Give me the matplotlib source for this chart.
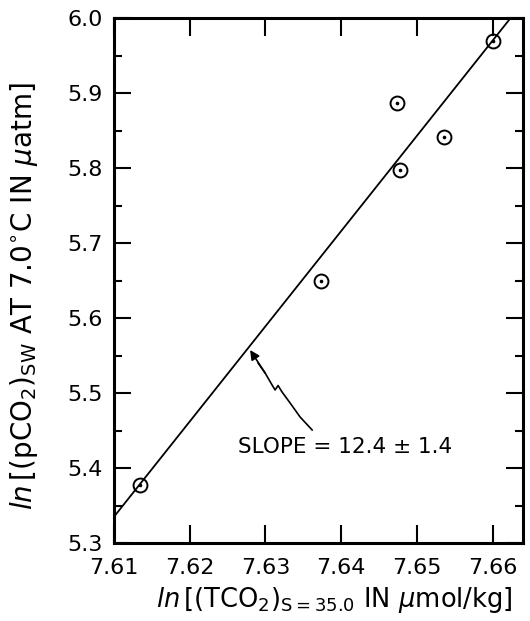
import numpy as np
import matplotlib
matplotlib.use("Agg")
import matplotlib.pyplot as plt

# data
ln_tco2 = [7.6134, 7.6373, 7.6474, 7.6478, 7.6536, 7.6601]
ln_pco2 = [5.377, 5.649, 5.887, 5.797, 5.841, 5.969]

# fitted line as drawn
fit_intercept = 5.335   # value at ln TCO2 = 7.61
fit_slope = 12.7
fit_x = [7.61, 7.6623]

# squiggly pointer to the line
arrow_x = [7.62797, 7.62902, 7.62995, 7.63087, 7.63127, 7.63166, 7.63219, 7.63325, 7.63457, 7.63616]
arrow_y = [5.5573, 5.540, 5.5267, 5.5107, 5.5040, 5.5100, 5.5013, 5.4867, 5.468, 5.4507]

x_ticks = [7.61, 7.62, 7.63, 7.64, 7.65, 7.66]
y_ticks = [5.3, 5.4, 5.5, 5.6, 5.7, 5.8, 5.9, 6.0]

plt.rcParams['font.family'] = ['DejaVu Sans']
plt.rcParams['mathtext.fontset'] = 'dejavusans'

fig = plt.figure(figsize=(5.30, 6.21), dpi=100)
ax = fig.add_axes([114 / 530, 1 - 543 / 621, (523 - 114) / 530, (543 - 18) / 621])

fx = np.array(fit_x)
ax.plot(fx, fit_intercept + fit_slope * (fx - 7.61), color='black', lw=1.3)

ax.plot(ln_tco2, ln_pco2, linestyle='none', marker='o', ms=10, mfc='none',
        mec='black', mew=1.4)
ax.plot(ln_tco2, ln_pco2, linestyle='none', marker='o', ms=1.6, color='black')

ax.plot(arrow_x[1:], arrow_y[1:], color='black', lw=1.2)
ax.annotate('', xy=(arrow_x[0], arrow_y[0]), xytext=(arrow_x[2], arrow_y[2]),
            arrowprops=dict(arrowstyle='-|>', color='black', lw=1.2,
                            mutation_scale=14, shrinkA=0, shrinkB=0))

ax.text(7.6264, 5.428, 'SLOPE = 12.4 ± 1.4', fontsize=15.5, va='center', ha='left')

ax.set_xlim(7.61, 7.664)
ax.set_ylim(5.3, 6.0)
ax.set_xticks(x_ticks)
ax.set_xticklabels(['7.61', '7.62', '7.63', '7.64', '7.65', '7.66'])
ax.set_yticks(y_ticks)
ax.set_yticklabels(['5.3', '5.4', '5.5', '5.6', '5.7', '5.8', '5.9', '6.0'])
ax.set_yticks(np.arange(5.35, 6.0, 0.1), minor=True)

ax.tick_params(axis='both', which='major', direction='in', top=True, right=True,
               labelsize=16, width=1.5)
ax.tick_params(axis='x', which='major', length=13, pad=11)
ax.tick_params(axis='y', which='major', length=12, pad=8)
ax.tick_params(axis='y', which='minor', direction='in', right=True, length=6, width=1.5)

for s in ax.spines.values():
    s.set_linewidth(2.2)

ax.set_xlabel(r'$\mathit{ln}\,\left[\left(\mathrm{TCO}_2\right)_{\mathrm{S=35.0}}\ \mathrm{IN}\ \mu\mathrm{mol/kg}\right]$',
              fontsize=18.5)
ax.set_ylabel(r'$\mathit{ln}\,\left[\left(\mathrm{pCO}_2\right)_{\mathrm{SW}}\ \mathrm{AT\ 7.0^{\circ}C\ IN}\ \mu\mathrm{atm}\right]$',
              fontsize=20)
ax.xaxis.set_label_coords(0.538, -0.08)
ax.yaxis.set_label_coords(-0.18, 0.47)

fig.savefig('out.png', dpi=100)
